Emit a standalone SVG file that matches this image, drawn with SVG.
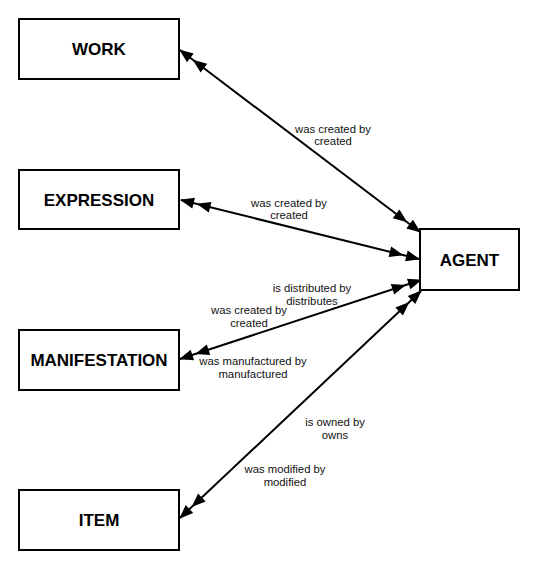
<svg xmlns="http://www.w3.org/2000/svg" width="537" height="572" viewBox="0 0 537 572">
<style>
.box{fill:#fff;stroke:#000;stroke-width:2}
.nt{font-family:"Liberation Sans",Arial,sans-serif;font-weight:bold;font-size:17px;fill:#000;text-anchor:middle}
.conn{stroke:#000;stroke-width:2;fill:none;marker-start:url(#dbl);marker-end:url(#dbl)}
.lbl{font-family:"Liberation Sans",Arial,sans-serif;font-size:11.3px;fill:#111;text-anchor:middle}
</style>
<defs>
<marker id="dbl" markerUnits="userSpaceOnUse" viewBox="0 -6 32 12" markerWidth="32" markerHeight="12" refX="31" refY="0" orient="auto-start-reverse">
<path d="M32,0 L18,-5.5 L18,5.5 Z M15,0 L1,-5.5 L1,5.5 Z" fill="#000"/>
</marker>
</defs>
<rect width="537" height="572" fill="#fff"/>
<g id="connectors">
<line class="conn" x1="180" y1="50" x2="420" y2="232"/>
<line class="conn" x1="181" y1="200" x2="419" y2="259"/>
<line class="conn" x1="180" y1="359" x2="421" y2="280"/>
<line class="conn" x1="180" y1="518" x2="421" y2="291"/>
<text class="lbl" x="333" y="133">was created by</text>
<text class="lbl" x="333" y="145">created</text>
<text class="lbl" x="289" y="207">was created by</text>
<text class="lbl" x="289" y="219">created</text>
<text class="lbl" x="312" y="292">is distributed by</text>
<text class="lbl" x="312" y="305">distributes</text>
<text class="lbl" x="249" y="314">was created by</text>
<text class="lbl" x="249" y="327">created</text>
<text class="lbl" x="253" y="365">was manufactured by</text>
<text class="lbl" x="253" y="378">manufactured</text>
<text class="lbl" x="335" y="426">is owned by</text>
<text class="lbl" x="335" y="439">owns</text>
<text class="lbl" x="285" y="473">was modified by</text>
<text class="lbl" x="285" y="486">modified</text>
</g>
<g id="work"><rect class="box" x="19" y="19" width="160" height="60"/><text class="nt" x="99" y="55">WORK</text></g>
<g id="expression"><rect class="box" x="19" y="170" width="160" height="59"/><text class="nt" x="99" y="205.5">EXPRESSION</text></g>
<g id="manifestation"><rect class="box" x="19" y="330" width="160" height="60"/><text class="nt" x="99" y="366">MANIFESTATION</text></g>
<g id="item"><rect class="box" x="19" y="490" width="160" height="60"/><text class="nt" x="99" y="526">ITEM</text></g>
<g id="agent"><rect class="box" x="420" y="229" width="99" height="61"/><text class="nt" x="469.5" y="265.5">AGENT</text></g>
</svg>
